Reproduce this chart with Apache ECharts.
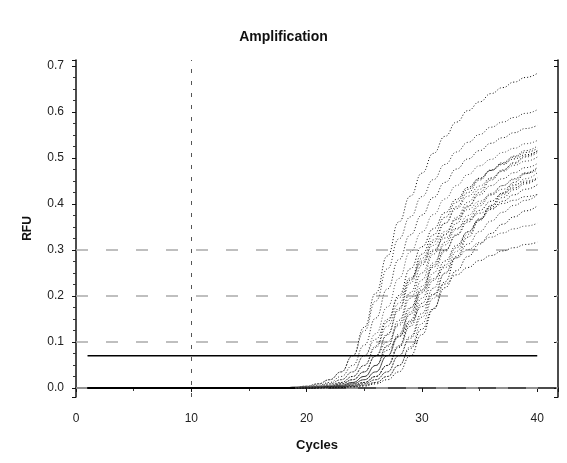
<!DOCTYPE html>
<html>
<head>
<meta charset="utf-8">
<script src="https://cdn.jsdelivr.net/npm/echarts@6/dist/echarts.min.js"></script>
<style>
  html, body { margin: 0; padding: 0; background: #fff; }
  #chart { width: 567px; height: 463px; }
</style>
</head>
<body>
<div id="chart"></div>
<script>
// cycles 1..40
const cycles = [1,2,3,4,5,6,7,8,9,10,11,12,13,14,15,16,17,18,19,20,21,22,23,24,25,26,27,28,29,30,31,32,33,34,35,36,37,38,39,40];
// flat baseline for cycles 1..18 (all wells)
const lead = [0,0,0,0,0,0,0,0,0,0,0,0,0,0,0,0,0,0];
// RFU per well, cycles 19..40
const well1  = [0.002,0.004,0.009,0.018,0.035,0.07,0.132,0.206,0.287,0.361,0.417,0.467,0.510,0.547,0.578,0.603,0.622,0.640,0.653,0.665,0.675,0.684];
const well2  = [0.002,0.004,0.009,0.018,0.035,0.07,0.124,0.189,0.259,0.324,0.372,0.416,0.453,0.486,0.513,0.534,0.551,0.567,0.578,0.588,0.597,0.605];
const well3  = [0.002,0.003,0.006,0.012,0.025,0.049,0.093,0.152,0.215,0.279,0.333,0.376,0.414,0.447,0.476,0.498,0.516,0.532,0.544,0.555,0.564,0.571];
const well4  = [0.001,0.002,0.004,0.009,0.018,0.035,0.07,0.118,0.176,0.238,0.296,0.339,0.377,0.411,0.440,0.464,0.483,0.497,0.512,0.521,0.531,0.538];
const well5  = [0.001,0.002,0.003,0.006,0.012,0.025,0.049,0.091,0.144,0.201,0.259,0.307,0.346,0.381,0.410,0.436,0.456,0.473,0.486,0.498,0.507,0.515];
const well6  = [0,0.001,0.002,0.004,0.009,0.018,0.035,0.07,0.115,0.169,0.228,0.282,0.322,0.358,0.390,0.417,0.439,0.457,0.471,0.484,0.493,0.502];
const well7  = [0,0.001,0.002,0.004,0.009,0.018,0.035,0.07,0.117,0.173,0.235,0.291,0.333,0.371,0.404,0.432,0.455,0.474,0.488,0.502,0.512,0.521];
const well8  = [0,0.001,0.002,0.003,0.006,0.012,0.025,0.049,0.090,0.140,0.195,0.250,0.297,0.334,0.367,0.396,0.420,0.440,0.455,0.468,0.479,0.488];
const well9  = [0,0.001,0.002,0.003,0.006,0.012,0.025,0.049,0.092,0.147,0.207,0.267,0.317,0.358,0.394,0.425,0.452,0.473,0.490,0.504,0.516,0.526];
const well10 = [0,0,0.001,0.002,0.004,0.009,0.018,0.035,0.07,0.113,0.165,0.221,0.272,0.311,0.345,0.375,0.401,0.423,0.440,0.453,0.466,0.474];
const well11 = [0,0,0.001,0.002,0.004,0.009,0.018,0.035,0.07,0.111,0.160,0.214,0.263,0.300,0.332,0.361,0.386,0.406,0.423,0.435,0.447,0.455];
const well12 = [0,0,0.001,0.002,0.003,0.006,0.012,0.025,0.049,0.090,0.140,0.195,0.250,0.297,0.334,0.367,0.396,0.420,0.440,0.455,0.468,0.479];
const well13 = [0,0,0.001,0.002,0.003,0.006,0.012,0.025,0.049,0.088,0.134,0.184,0.234,0.276,0.310,0.340,0.366,0.388,0.406,0.420,0.432,0.442];
const well14 = [0,0,0,0.001,0.002,0.004,0.009,0.018,0.035,0.07,0.108,0.154,0.203,0.249,0.283,0.313,0.340,0.363,0.382,0.397,0.408,0.420];
const well15 = [0,0,0,0.001,0.002,0.004,0.009,0.018,0.035,0.07,0.112,0.162,0.217,0.267,0.305,0.339,0.368,0.393,0.414,0.431,0.444,0.456];
const well16 = [0,0,0,0.001,0.002,0.003,0.006,0.012,0.025,0.049,0.090,0.140,0.195,0.250,0.297,0.334,0.367,0.396,0.420,0.440,0.455,0.468];
const well17 = [0,0,0,0,0.001,0.002,0.004,0.009,0.018,0.035,0.07,0.116,0.171,0.231,0.286,0.328,0.364,0.397,0.424,0.447,0.466,0.479];
const well18 = [0,0.001,0.002,0.004,0.009,0.018,0.035,0.07,0.100,0.136,0.175,0.211,0.238,0.262,0.283,0.301,0.316,0.328,0.337,0.346,0.352,0.358];
const well19 = [0,0.001,0.002,0.003,0.006,0.012,0.025,0.049,0.082,0.112,0.144,0.177,0.204,0.226,0.246,0.262,0.277,0.288,0.298,0.305,0.312,0.317];
const well20 = [0.001,0.002,0.004,0.009,0.018,0.035,0.07,0.106,0.149,0.196,0.239,0.272,0.300,0.326,0.347,0.365,0.380,0.390,0.401,0.408,0.416,0.421];
const well21 = [0,0,0.001,0.002,0.003,0.006,0.012,0.025,0.049,0.092,0.147,0.207,0.267,0.317,0.358,0.394,0.425,0.452,0.473,0.490,0.504,0.516];
const well22 = [0.001,0.002,0.003,0.006,0.012,0.025,0.049,0.088,0.134,0.184,0.234,0.276,0.310,0.340,0.366,0.388,0.406,0.420,0.432,0.442,0.450,0.457];
const well23 = [0,0,0,0.001,0.002,0.003,0.006,0.012,0.025,0.049,0.086,0.128,0.173,0.218,0.255,0.286,0.313,0.336,0.356,0.372,0.385,0.396];
const well24 = [0,0,0.001,0.002,0.004,0.009,0.018,0.035,0.07,0.117,0.173,0.235,0.291,0.333,0.371,0.404,0.432,0.455,0.474,0.488,0.502,0.512];

const wells = [well1, well2, well3, well4, well5, well6, well7, well8, well9, well10, well11, well12,
  well13, well14, well15, well16, well17, well18, well19, well20, well21, well22, well23, well24];

const threshold = 0.07;
const thresholdRange = [1, 40];
const gridLevels = [0, 0.1, 0.2, 0.3];
const markerCycle = 10;

const font = 'Liberation Sans';
const shades = ['#111', '#333', '#222', '#555', '#000', '#444'];

// reference lines go in their own empty series so they sit under the curves
const series = [{
  type: 'line',
  data: [],
  silent: true,
  z: 1,
  markLine: {
    silent: true,
    z: 1,
    symbol: 'none',
    label: { show: false },
    data: gridLevels.map(v => ({ yAxis: v, lineStyle: { color: '#aaa', width: 1.5, type: [12, 18] } }))
      .concat([{ xAxis: markerCycle, lineStyle: { color: '#555', width: 1, type: [4, 8] } }])
  }
}];

wells.forEach((w, i) => {
  const vals = lead.concat(w);
  series.push({
    type: 'line',
    data: cycles.map((c, j) => [c, vals[j]]),
    showSymbol: false,
    smooth: true,
    smoothMonotone: 'x',
    silent: true,
    z: 3,
    lineStyle: { color: shades[i % shades.length], width: 1, type: [1, 2], dashOffset: i % 3 }
  });
});

series.push({
  type: 'line',
  data: thresholdRange.map(c => [c, threshold]),
  showSymbol: false,
  silent: true,
  lineStyle: { color: '#000', width: 1.5 },
  z: 5
});

// solid-looking run where all wells sit on the baseline
series.push({
  type: 'line',
  data: cycles.slice(0, 19).map((c, j) => [c, lead.concat([0])[j]]),
  showSymbol: false,
  silent: true,
  lineStyle: { color: '#000', width: 2 },
  z: 4
});

const chart = echarts.init(document.getElementById('chart'));
chart.setOption({
  animation: false,
  backgroundColor: '#fff',
  title: {
    text: 'Amplification',
    left: 'center',
    top: 25,
    textStyle: { fontFamily: font, fontSize: 14, fontWeight: 'bold', color: '#111' }
  },
  grid: { left: 76, right: 9, top: 60, bottom: 66 },
  xAxis: {
    type: 'value',
    min: 0,
    max: 41.8,
    interval: 10,
    name: 'Cycles',
    nameLocation: 'middle',
    nameGap: 42,
    nameTextStyle: { fontFamily: font, fontSize: 13, fontWeight: 'bold', color: '#111' },
    axisLine: { lineStyle: { color: '#111', width: 1.5 } },
    axisTick: { length: 4, lineStyle: { color: '#111' } },
    minorTick: { show: true, splitNumber: 2, length: 3, lineStyle: { color: '#333' } },
    axisLabel: { margin: 16, showMaxLabel: false, fontFamily: font, fontSize: 12, color: '#222' },
    splitLine: { show: false }
  },
  yAxis: [{
    type: 'value',
    min: -0.0196,
    max: 0.713,
    splitNumber: 7,
    name: 'RFU',
    nameLocation: 'middle',
    nameGap: 42,
    nameRotate: 90,
    nameTextStyle: { fontFamily: font, fontSize: 12, fontWeight: 'bold', color: '#111' },
    axisLine: { show: true, lineStyle: { color: '#111', width: 1.5 } },
    axisTick: { show: true, length: 4, lineStyle: { color: '#111' } },
    minorTick: { show: true, splitNumber: 4, length: 3, lineStyle: { color: '#333' } },
    axisLabel: {
      margin: 12, showMinLabel: false, showMaxLabel: false,
      fontFamily: font, fontSize: 12, color: '#222',
      formatter: v => v.toFixed(1)
    },
    splitLine: { show: false }
  }, {
    type: 'value',
    position: 'right',
    min: -0.0196,
    max: 0.713,
    splitNumber: 7,
    axisLine: { show: true, lineStyle: { color: '#111', width: 1.5 } },
    axisTick: { show: true, inside: true, length: 4, lineStyle: { color: '#111' } },
    axisLabel: { show: false },
    splitLine: { show: false }
  }],
  series: series
});
</script>
</body>
</html>
